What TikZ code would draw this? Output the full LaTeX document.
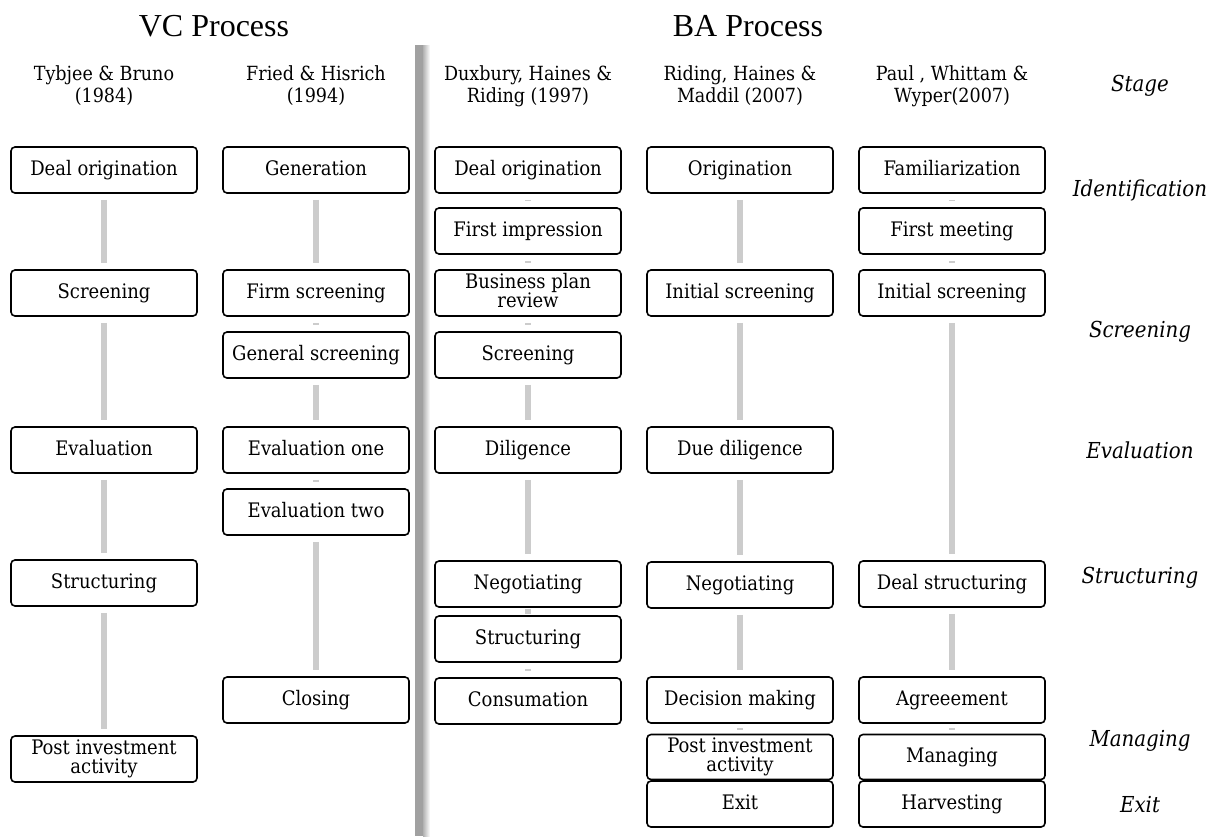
\documentclass[tikz,border=0pt]{standalone}
\usepackage{fontspec}
\setmainfont{DejaVu Serif Condensed}
\newfontfamily\titlefont{Liberation Serif}
\usetikzlibrary{positioning}

\begin{document}
\begin{tikzpicture}[x=1pt,y=-1pt,
  step box/.style={draw,rounded corners=4pt,line width=1.6pt,minimum width=186pt,
    minimum height=46pt,inner sep=1pt,align=center,
    execute at begin node=\vphantom{Ag},
    font=\fontsize{20}{19}\selectfont},
  author/.style={align=center,font=\fontsize{19.5}{22}\selectfont},
  stage/.style={font=\fontsize{22}{24}\selectfont\itshape},
  link/.style={draw=black!20,line width=6pt,shorten >=6pt,shorten <=6pt}]
  \useasboundingbox (0,0) rectangle (1217,836);

  % titles
  \node[font=\fontsize{32}{34}\selectfont\titlefont] (vc) at (214,26) {VC Process};
  \node[font=\fontsize{32}{34}\selectfont\titlefont] (ba) at (748,26) {BA Process};

  % separator with shadow
  \shade[left color=black!30,right color=white] (423,45) rectangle (430,836);
  \fill[black!37] (415,45) rectangle (423,836);

  % headers
  \node[author] (h1) at (104,86) {Tybjee \& Bruno\\(1984)};
  \node[author] (h2) at (316,86) {Fried \& Hisrich\\(1994)};
  \node[author] (h3) at (528,86) {Duxbury, Haines \&\\Riding (1997)};
  \node[author] (h4) at (740,86) {Riding, Haines \&\\Maddil (2007)};
  \node[author] (h5) at (952,86) {Paul , Whittam \&\\Wyper(2007)};
  \node[stage] (s0) at (1140,86) {Stage};

  % Tybjee & Bruno
  \node[step box] (a1) at (104,170) {Deal origination};
  \node[step box] (a2) at (104,293) {Screening};
  \node[step box] (a3) at (104,450) {Evaluation};
  \node[step box] (a4) at (104,583) {Structuring};
  \node[step box] (a5) at (104,759) {Post investment\\activity};

  % Fried & Hisrich
  \node[step box] (b1) at (316,170) {Generation};
  \node[step box] (b2) at (316,293) {Firm screening};
  \node[step box] (b3) at (316,355) {General screening};
  \node[step box] (b4) at (316,450) {Evaluation one};
  \node[step box] (b5) at (316,512) {Evaluation two};
  \node[step box] (b6) at (316,700) {Closing};

  % Duxbury, Haines & Riding
  \node[step box] (c1) at (528,170) {Deal origination};
  \node[step box] (c2) at (528,231) {First impression};
  \node[step box] (c3) at (528,293) {Business plan\\review};
  \node[step box] (c4) at (528,355) {Screening};
  \node[step box] (c5) at (528,450) {Diligence};
  \node[step box] (c6) at (528,584) {Negotiating};
  \node[step box] (c7) at (528,639) {Structuring};
  \node[step box] (c8) at (528,701) {Consumation};

  % Riding, Haines & Maddil
  \node[step box] (d1) at (740,170) {Origination};
  \node[step box] (d2) at (740,293) {Initial screening};
  \node[step box] (d3) at (740,450) {Due diligence};
  \node[step box] (d4) at (740,585) {Negotiating};
  \node[step box] (d5) at (740,700) {Decision making};
  \node[step box,minimum height=45pt] (d6) at (740,757) {Post investment\\activity};
  \node[step box] (d7) at (740,804) {Exit};

  % Paul, Whittam & Wyper
  \node[step box] (e1) at (952,170) {Familiarization};
  \node[step box] (e2) at (952,231) {First meeting};
  \node[step box] (e3) at (952,293) {Initial screening};
  \node[step box] (e4) at (952,584) {Deal structuring};
  \node[step box] (e5) at (952,700) {Agreeement};
  \node[step box,minimum height=45pt] (e6) at (952,757) {Managing};
  \node[step box] (e7) at (952,804) {Harvesting};

  % stages
  \node[stage] (s1) at (1140,190) {Identification};
  \node[stage] (s2) at (1140,332) {Screening};
  \node[stage] (s3) at (1140,450) {Evaluation};
  \node[stage] (s4) at (1140,578) {Structuring};
  \node[stage] (s5) at (1140,741) {Managing};
  \node[stage] (s6) at (1140,805) {Exit};

  % links
  \path[link]
    (a1) edge (a2) (a2) edge (a3) (a3) edge (a4) (a4) edge (a5)
    (b1) edge (b2) (b2) edge (b3) (b3) edge (b4) (b4) edge (b5) (b5) edge (b6)
    (c1) edge (c2) (c2) edge (c3) (c3) edge (c4) (c4) edge (c5) (c5) edge (c6)
    (c6) edge (c7) (c7) edge (c8)
    (d1) edge (d2) (d2) edge (d3) (d3) edge (d4) (d4) edge (d5) (d5) edge (d6)
    (e1) edge (e2) (e2) edge (e3) (e3) edge (e4) (e4) edge (e5) (e5) edge (e6);
\end{tikzpicture}
\end{document}
